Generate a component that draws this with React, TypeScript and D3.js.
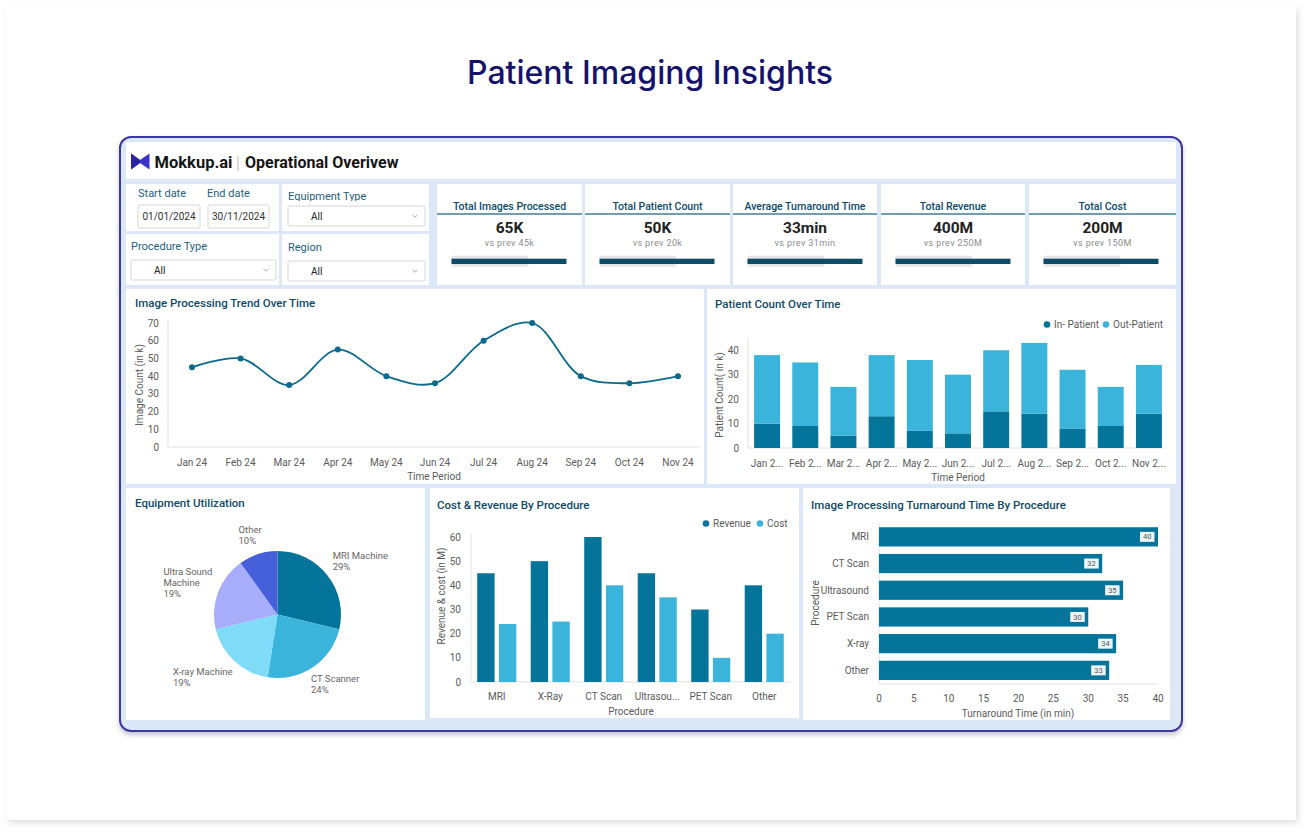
import * as d3 from "d3";

// ---- data ----
const kpiTitles = ["Total Images Processed", "Total Patient Count", "Average Turnaround Time", "Total Revenue", "Total Cost"];
const kpiValues = ["65K", "50K", "33min", "400M", "200M"];
const kpiPrev = ["vs prev 45k", "vs prev 20k", "vs prev 31min", "vs prev 250M", "vs prev 150M"];

const months = ["Jan 24", "Feb 24", "Mar 24", "Apr 24", "May 24", "Jun 24", "Jul 24", "Aug 24", "Sep 24", "Oct 24", "Nov 24"];
const imageCounts = [45, 50, 35, 55, 40, 36, 60, 70, 40, 36, 40];
const inPatient = [10, 9, 5, 13, 7, 6, 15, 14, 8, 9, 14];
const outPatient = [28, 26, 20, 25, 29, 24, 25, 29, 24, 16, 20];

const equipment = ["MRI Machine", "CT Scanner", "X-ray Machine", "Ultra Sound Machine", "Other"];
const equipmentShare = [29, 24, 19, 19, 10];

const procedures = ["MRI", "X-Ray", "CT Scan", "Ultrasound", "PET Scan", "Other"];
const revenue = [45, 50, 60, 45, 30, 40];
const cost = [24, 25, 40, 35, 10, 20];

const turnaroundProcs = ["MRI", "CT Scan", "Ultrasound", "PET Scan", "X-ray", "Other"];
const turnaround = [40, 32, 35, 30, 34, 33];

// ---- style ----
const DARK = "#05749a";
const LIGHT = "#3bb4dc";
const PIE_COLORS = ["#05749a", "#3bb4dc", "#7fdbf7", "#a8adfb", "#4660da"];
const TITLE = "#0d4a68";
const TXT = "#5b5b5b";
const AXIS = "#e2e2e2";
const FONT = "Roboto, 'Noto Sans', sans-serif";

const truncate = (s: string, n: number) => (s.length > n ? s.slice(0, n) + "..." : s);

let ctx: CanvasRenderingContext2D | null = null;
function textWidth(s: string, font: string) {
  if (!ctx) ctx = document.createElement("canvas").getContext("2d");
  if (!ctx) return s.length * 5;
  ctx.font = font;
  return ctx.measureText(s).width;
}
function wrap(s: string, max: number, font: string) {
  const words = s.split(" ");
  const lines: string[] = [];
  let cur = "";
  words.forEach((w) => {
    const t = cur ? cur + " " + w : w;
    if (cur && textWidth(t, font) > max) {
      lines.push(cur);
      cur = w;
    } else cur = t;
  });
  if (cur) lines.push(cur);
  return lines;
}

function Panel({ x, y, w, h }: { x: number; y: number; w: number; h: number }) {
  return <rect x={x} y={y} width={w} height={h} fill="#fff" />;
}

function Title({ x, y, text }: { x: number; y: number; text: string }) {
  return (
    <text x={x} y={y} fontSize={11.5} fontWeight={500} fill={TITLE}>
      {text}
    </text>
  );
}

function Filters() {
  const box = (x: number, y: number, w: number, h: number) => (
    <rect x={x} y={y} width={w} height={h} fill="#fff" stroke="#cdcdcd" strokeWidth={0.8} rx={1.5} />
  );
  const caret = (x: number, y: number) => (
    <path d={`M${x - 2.5},${y - 1} L${x},${y + 1.2} L${x + 2.5},${y - 1}`} fill="none" stroke="#999" strokeWidth={0.8} />
  );
  return (
    <g fontSize={11} fill="#1d5f7e">
      <defs>
        <clipPath id="eqclip">
          <rect x={284} y={184} width={145} height={17} />
        </clipPath>
      </defs>
      <Panel x={126} y={184} w={153} h={47} />
      <Panel x={282} y={184} w={147} h={47} />
      <Panel x={126} y={234} w={153} h={51} />
      <Panel x={282} y={234} w={147} h={51} />
      <text x={138} y={197}>Start date</text>
      <text x={207} y={197}>End date</text>
      {box(138, 205, 62, 23)}
      {box(208, 205, 61, 23)}
      <text x={169} y={219.5} fontSize={10} fill="#333" textAnchor="middle">01/01/2024</text>
      <text x={238.5} y={219.5} fontSize={10} fill="#333" textAnchor="middle">30/11/2024</text>
      <text x={288} y={200} clipPath="url(#eqclip)">Equipment Type</text>
      {box(288, 206, 137, 20)}
      <text x={311} y={219.5} fontSize={10} fill="#222">All</text>
      {caret(415, 216)}
      <text x={131} y={250}>Procedure Type</text>
      {box(131, 260, 145, 20)}
      <text x={154} y={273.5} fontSize={10} fill="#222">All</text>
      {caret(266, 270)}
      <text x={288} y={251}>Region</text>
      {box(288, 261, 137, 20)}
      <text x={311} y={274.5} fontSize={10} fill="#222">All</text>
      {caret(415, 271)}
    </g>
  );
}

function Kpis() {
  const xs = [437, 585, 733, 881, 1029];
  const ws = [145, 145, 144, 144, 147];
  return (
    <g>
      {kpiTitles.map((t, i) => {
        const x = xs[i];
        const w = ws[i];
        const cx = x + w / 2;
        return (
          <g key={t}>
            <Panel x={x} y={184} w={w} h={101} />
            <text x={cx} y={209.5} textAnchor="middle" fontSize={10.5} fontWeight={500} fill={TITLE}>
              {t}
            </text>
            <line x1={x} x2={x + w} y1={214} y2={214} stroke="#3f7d97" strokeWidth={1.4} />
            <text x={cx} y={233} textAnchor="middle" fontSize={15.5} fontWeight={700} fill="#222">
              {kpiValues[i]}
            </text>
            <text x={cx} y={246} textAnchor="middle" fontSize={9} fill="#8c8c8c" letterSpacing={0.4}>
              {kpiPrev[i]}
            </text>
            <rect x={x + 14.5} y={255.7} width={77} height={11} fill="#e4e6e8" />
            <rect x={x + 14.5} y={258.7} width={115} height={5.3} fill="#0e4d68" />
          </g>
        );
      })}
    </g>
  );
}

function TrendChart() {
  const x = d3.scalePoint<string>().domain(months).range([192, 678]);
  const y = d3.scaleLinear().domain([0, 70]).range([447, 323]);
  const line = d3
    .line<number>()
    .x((_, i) => x(months[i])!)
    .y((d) => y(d))
    .curve(d3.curveCatmullRom.alpha(0.5));
  return (
    <g>
      <Panel x={126} y={289} w={578} h={195} />
      <Title x={135} y={307} text="Image Processing Trend Over Time" />
      <line x1={168} x2={168} y1={320} y2={447} stroke={AXIS} />
      <line x1={168} x2={700} y1={447} y2={447} stroke={AXIS} />
      <g fontSize={10} fill={TXT}>
        {y.ticks(7).map((t) => (
          <text key={t} x={159} y={y(t)} dy="0.35em" textAnchor="end">
            {t}
          </text>
        ))}
        {months.map((m) => (
          <text key={m} x={x(m)} y={466} textAnchor="middle">
            {m}
          </text>
        ))}
        <text x={434} y={480} textAnchor="middle">Time Period</text>
        <text transform="translate(143,385) rotate(-90)" textAnchor="middle">Image Count (in k)</text>
      </g>
      <path d={line(imageCounts) || ""} fill="none" stroke="#0b6a8c" strokeWidth={1.8} />
      {imageCounts.map((v, i) => (
        <circle key={i} cx={x(months[i])} cy={y(v)} r={3} fill="#0b6a8c" />
      ))}
    </g>
  );
}

function PatientChart() {
  const x = d3.scaleBand<string>().domain(months).range([748, 1168]).paddingInner(0.32).paddingOuter(0.16);
  const y = d3.scaleLinear().domain([0, 45]).range([448, 338]);
  const stack = d3.stack<number>().keys(["in", "out"]).value((i, k) => (k === "in" ? inPatient[i] : outPatient[i]));
  const series = stack(d3.range(months.length));
  const colors = [DARK, LIGHT];
  return (
    <g>
      <Panel x={707} y={289} w={469} h={195} />
      <Title x={715} y={307.5} text="Patient Count Over Time" />
      <circle cx={1047} cy={324.5} r={3.3} fill={DARK} />
      <text x={1054} y={328} fontSize={10} fill={TXT}>In- Patient</text>
      <circle cx={1106} cy={324.5} r={3.3} fill={LIGHT} />
      <text x={1113} y={328} fontSize={10} fill={TXT}>Out-Patient</text>
      <line x1={748} x2={748} y1={338} y2={448} stroke={AXIS} />
      <line x1={748} x2={1166} y1={448} y2={448} stroke={AXIS} />
      {series.map((s, si) =>
        s.map((d, i) => (
          <rect
            key={si + "-" + i}
            x={x(months[i])}
            y={y(d[1])}
            width={x.bandwidth()}
            height={y(d[0]) - y(d[1])}
            fill={colors[si]}
          />
        ))
      )}
      <g fontSize={10} fill={TXT}>
        {y.ticks(5).filter((t) => t <= 40).map((t) => (
          <text key={t} x={739} y={y(t)} dy="0.35em" textAnchor="end">
            {t}
          </text>
        ))}
        {months.map((m) => (
          <text key={m} x={x(m)! + x.bandwidth() / 2} y={466.5} textAnchor="middle">
            {truncate(m, 5)}
          </text>
        ))}
        <text x={958} y={481} textAnchor="middle">Time Period</text>
        <text transform="translate(723,395) rotate(-90)" textAnchor="middle">Patient Count( in k)</text>
      </g>
    </g>
  );
}

function PieChart() {
  const cx = 277.5;
  const cy = 614.5;
  const r = 63.5;
  const arcs = d3.pie<number>().sort(null).value((d) => d)(equipmentShare);
  const arc = d3.arc<d3.PieArcDatum<number>>().innerRadius(0).outerRadius(r);
  const labelArc = d3.arc<d3.PieArcDatum<number>>().innerRadius(78).outerRadius(78);
  const lf = `9.5px ${FONT}`;
  return (
    <g>
      <Panel x={126} y={488} w={299} h={232} />
      <Title x={135} y={507} text="Equipment Utilization" />
      <g transform={`translate(${cx},${cy})`}>
        {arcs.map((a, i) => (
          <path key={i} d={arc(a) || ""} fill={PIE_COLORS[i]} />
        ))}
        {arcs.map((a, i) => {
          const [lx, ly0] = labelArc.centroid(a);
          const ly = ly0 + (ly0 < 0 ? -5 : 5);
          const lines = [...wrap(equipment[i], 66, lf), equipmentShare[i] + "%"];
          const bw = d3.max(lines, (l) => textWidth(l, lf)) || 0;
          const right = lx > 0;
          const sx = right ? lx - 6 - (ly > 0 ? 4 : 0) : lx + 8 - bw;
          const top = ly - ((lines.length - 1) * 11) / 2;
          return (
            <text key={i} fontSize={9.5} fill="#666">
              {lines.map((l, j) => (
                <tspan key={j} x={sx} y={top + j * 11} dy="0.35em">
                  {l}
                </tspan>
              ))}
            </text>
          );
        })}
      </g>
    </g>
  );
}

function CostChart() {
  const x = d3.scaleBand<string>().domain(procedures).range([470, 791]).paddingInner(0.27).paddingOuter(0.135);
  const sub = d3.scaleBand<string>().domain(["Revenue", "Cost"]).range([0, x.bandwidth()]).paddingInner(0.2);
  const y = d3.scaleLinear().domain([0, 60]).range([682, 537]);
  return (
    <g>
      <Panel x={430} y={488} w={369} h={230} />
      <Title x={437} y={509} text="Cost & Revenue By Procedure" />
      <circle cx={706} cy={523.5} r={3.3} fill={DARK} />
      <text x={713} y={527} fontSize={10} fill={TXT}>Revenue</text>
      <circle cx={760} cy={523.5} r={3.3} fill={LIGHT} />
      <text x={767} y={527} fontSize={10} fill={TXT}>Cost</text>
      <line x1={471} x2={471} y1={534} y2={682} stroke={AXIS} />
      <line x1={471} x2={791} y1={682} y2={682} stroke={AXIS} />
      {procedures.map((p, i) => (
        <g key={p} transform={`translate(${x(p)},0)`}>
          <rect x={sub("Revenue")} y={y(revenue[i])} width={sub.bandwidth()} height={y(0) - y(revenue[i])} fill={DARK} />
          <rect x={sub("Cost")} y={y(cost[i])} width={sub.bandwidth()} height={y(0) - y(cost[i])} fill={LIGHT} />
        </g>
      ))}
      <g fontSize={10} fill={TXT}>
        {y.ticks(6).map((t) => (
          <text key={t} x={461} y={y(t)} dy="0.35em" textAnchor="end">
            {t}
          </text>
        ))}
        {procedures.map((p) => (
          <text key={p} x={x(p)! + x.bandwidth() / 2} y={700} textAnchor="middle">
            {truncate(p, 8)}
          </text>
        ))}
        <text x={631} y={715} textAnchor="middle">Procedure</text>
        <text transform="translate(445,596) rotate(-90)" textAnchor="middle">Revenue &amp; cost (in M)</text>
      </g>
    </g>
  );
}

function TurnaroundChart() {
  const x = d3.scaleLinear().domain([0, 40]).range([879, 1158]);
  const y = d3.scaleBand<string>().domain(turnaroundProcs).range([523.5, 683.7]).paddingInner(0.28).paddingOuter(0.14);
  return (
    <g>
      <Panel x={803} y={488} w={367} h={232} />
      <Title x={811} y={509} text="Image Processing Turnaround Time By Procedure" />
      <line x1={879} x2={879} y1={523} y2={684} stroke={AXIS} />
      <line x1={879} x2={1158} y1={684} y2={684} stroke={AXIS} />
      {turnaroundProcs.map((p, i) => {
        const yy = y(p)!;
        const xe = x(turnaround[i]);
        const cy = yy + y.bandwidth() / 2;
        return (
          <g key={p}>
            <rect x={x(0)} y={yy} width={xe - x(0)} height={y.bandwidth()} fill={DARK} />
            <rect x={xe - 18} y={cy - 5} width={14.5} height={10} fill="#fff" opacity={0.93} />
            <text x={xe - 10.75} y={cy} dy="0.35em" textAnchor="middle" fontSize={7.5} fill="#555">
              {turnaround[i]}
            </text>
            <text x={869} y={cy} dy="0.35em" textAnchor="end" fontSize={10} fill={TXT}>
              {p}
            </text>
          </g>
        );
      })}
      <g fontSize={10} fill={TXT}>
        {x.ticks(8).map((t) => (
          <text key={t} x={x(t)} y={701.5} textAnchor="middle">
            {t}
          </text>
        ))}
        <text x={1018} y={717} textAnchor="middle">Turnaround Time (in min)</text>
        <text transform="translate(819,603) rotate(-90)" textAnchor="middle">Procedure</text>
      </g>
    </g>
  );
}

export default function App() {
  return (
    <div style={{ position: "absolute", left: 0, top: 0 }}>
      <svg width={1310} height={834} fontFamily={FONT} style={{ display: "block" }}>
        <defs>
          <filter id="pageShadow" x="-5%" y="-5%" width="110%" height="110%">
            <feDropShadow dx={2} dy={3} stdDeviation={3} floodColor="#000" floodOpacity={0.12} />
          </filter>
          <filter id="frameShadow" x="-5%" y="-5%" width="110%" height="112%">
            <feDropShadow dx={0} dy={3} stdDeviation={2.5} floodColor="#000" floodOpacity={0.22} />
          </filter>
        </defs>
        <rect width={1310} height={834} fill="#fff" />
        <rect x={6} y={6} width={1290} height={814} fill="#fff" filter="url(#pageShadow)" />
        <text x={650} y={84} textAnchor="middle" fontFamily="Inter, sans-serif" fontSize={32} fontWeight={500} fill="#15126b">
          Patient Imaging Insights
        </text>

        <rect x={120} y={137} width={1062} height={594} rx={11} fill="#dce8f8" stroke="#3d37a3" strokeWidth={2} filter="url(#frameShadow)" />

        {/* header */}
        <rect x={126} y={142} width={1050} height={37} fill="#fff" />
        <path d="M131,153.5 L140,160 L149.5,153.5 L149.5,169.5 L140,163 L131,169.5 Z" fill="#3b33c9" />
        <path d="M131,153.5 L140,160 L140,163 L131,169.5 Z" fill="#2a24a0" />
        <text x={154.5} y={167.5} fontSize={16.5} fontWeight={700} fill="#151515">Mokkup.ai</text>
        <line x1={238} x2={238} y1={156} y2={171} stroke="#aaa" strokeWidth={0.8} />
        <text x={245} y={167.5} fontSize={16} fontWeight={700} fill="#151515">Operational Overivew</text>

        <Filters />
        <Kpis />
        <TrendChart />
        <PatientChart />
        <PieChart />
        <CostChart />
        <TurnaroundChart />
      </svg>
    </div>
  );
}
